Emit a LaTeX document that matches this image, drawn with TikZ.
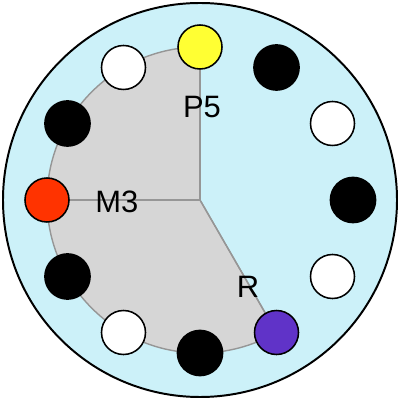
\documentclass[tikz,border=0pt]{standalone}
\usepackage{fontspec}
\setmainfont{Liberation Sans}
\usepackage{tikz}
\usetikzlibrary{shapes.geometric}
\definecolor{dialblue}{RGB}{204,241,249}
\definecolor{sectorgray}{RGB}{214,214,214}
\definecolor{spokegray}{RGB}{150,150,150}
\definecolor{pyellow}{RGB}{255,255,51}
\definecolor{mred}{RGB}{255,51,0}
\definecolor{rpurple}{RGB}{96,51,200}
\tikzstyle{dial} = [circle, minimum size=9.85cm, inner sep=0pt, draw=black, line width=1.4pt, fill=dialblue]
\tikzstyle{dot} = [circle, minimum size=1.1cm, inner sep=0pt, draw=black, line width=1.1pt]
\tikzstyle{whitedot} = [dot, fill=white]
\tikzstyle{blackdot} = [dot, fill=black, minimum size=1.13cm]
\tikzstyle{sector} = [fill=sectorgray, draw=spokegray, line width=1pt]
\tikzstyle{spoke} = [draw=spokegray, line width=1pt]
\tikzstyle{tag} = [font=\fontsize{22}{26}\selectfont]

\begin{document}
\begin{tikzpicture}
    \useasboundingbox (-5,-5) rectangle (5,5);
    \node (rim) [dial] at (0,0) {};
    \coordinate (hub) at (0,0);
    \fill [sector] (hub) -- (90:3.825) arc[start angle=90, end angle=300, radius=3.825] -- cycle;

    \draw [spoke] (hub) -- (90:3.825);
    \draw [spoke] (hub) -- (180:3.825);
    \draw [spoke] (hub) -- (300:3.825);

    \node (p5) [dot, fill=pyellow] at (90:3.825) {};
    \node (b1) [blackdot] at (60:3.825) {};
    \node (w1) [whitedot] at (30:3.825) {};
    \node (b2) [blackdot] at (0:3.825) {};
    \node (w2) [whitedot] at (-30:3.825) {};
    \node (r) [dot, fill=rpurple] at (-60:3.825) {};
    \node (b3) [blackdot] at (-90:3.825) {};
    \node (w3) [whitedot] at (-120:3.825) {};
    \node (b4) [blackdot] at (-150:3.825) {};
    \node (m3) [dot, fill=mred] at (180:3.825) {};
    \node (b5) [blackdot] at (150:3.825) {};
    \node (w4) [whitedot] at (120:3.825) {};

    \node (p5lab) [tag] at (0.05,2.32) {P5};
    \node (m3lab) [tag] at (-2.08,-0.04) {M3};
    \node (rlab) [tag] at (1.2,-2.18) {R};
\end{tikzpicture}
\end{document}
